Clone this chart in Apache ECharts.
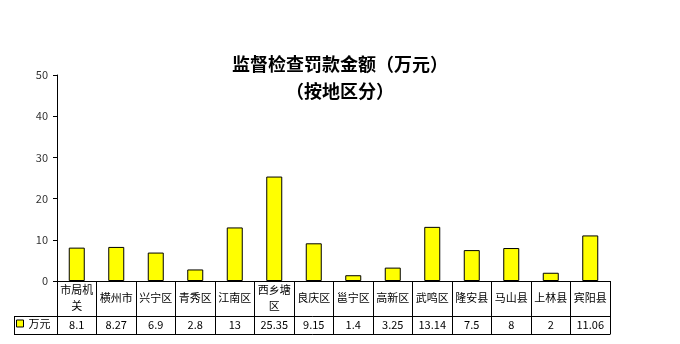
<!DOCTYPE html>
<html><head><meta charset="utf-8">
<script src="https://cdn.jsdelivr.net/npm/echarts@6/dist/echarts.min.js"></script>
<style>html,body{margin:0;padding:0;background:#fff}#c{width:680px;height:344px}</style>
</head><body><div id="c"></div>
<script>
const categories = ['市局机关','横州市','兴宁区','青秀区','江南区','西乡塘区','良庆区','邕宁区','高新区','武鸣区','隆安县','马山县','上林县','宾阳县'];
const values = [8.1, 8.27, 6.9, 2.8, 13, 25.35, 9.15, 1.4, 3.25, 13.14, 7.5, 8, 2, 11.06];
const seriesName = '万元';
const yTicks = [0, 10, 20, 30, 40, 50];
const titleLines = ['监督检查罚款金额（万元）', '（按地区分）'];

const FONT = '"Noto Sans CJK SC", sans-serif';
const chart = echarts.init(document.getElementById('c'), null, {renderer: 'canvas'});
const gridLeft = 57, gridRight = 610, axisY = 281;
chart.setOption({
  animation: false,
  backgroundColor: '#fff',
  title: {
    text: titleLines.join('\n'), left: 335, top: 46, textAlign: 'center',
    textStyle: {fontFamily: FONT, fontSize: 18, fontWeight: 'bold', color: '#000', lineHeight: 27}
  },
  legend: {
    data: [seriesName], left: 16, top: 318, itemWidth: 7, itemHeight: 7, itemGap: 0,
    icon: 'rect', padding: 0,
    textStyle: {fontFamily: FONT, fontSize: 11, color: '#000', padding: [0,0,0,0]},
    itemStyle: {borderColor: '#000', borderWidth: 1}
  },
  grid: {left: gridLeft, right: 680 - gridRight, top: 75, bottom: 344 - axisY, containLabel: false},
  xAxis: [{
    type: 'category', data: categories, position: 'bottom',
    axisLine: {lineStyle: {color: '#000', width: 1}},
    axisTick: {show: true, length: 53, lineStyle: {color: '#000'}},
    axisLabel: {
      interval: 0, margin: 17, verticalAlign: 'middle', fontFamily: FONT, fontSize: 11, color: '#000', lineHeight: 16,
      formatter: n => n.length > 3 ? n.slice(0,3) + '\n' + n.slice(3) : n
    }
  }, {
    type: 'category', data: values.map(String), position: 'bottom', offset: 35,
    axisLine: {show: false}, axisTick: {show: false},
    axisLabel: {interval: 0, margin: 9, verticalAlign: 'middle', fontFamily: FONT, fontSize: 11, color: '#000'}
  }],
  yAxis: {
    type: 'value', min: yTicks[0], max: yTicks[yTicks.length-1], interval: yTicks[1]-yTicks[0],
    axisLine: {show: true, lineStyle: {color: '#000'}},
    axisTick: {show: true, inside: false, length: 4, lineStyle: {color: '#000'}},
    splitLine: {show: false},
    axisLabel: {margin: 9, fontFamily: FONT, fontSize: 11, color: '#333'}
  },
  series: [{
    name: seriesName, type: 'bar', data: values, barWidth: 16,
    itemStyle: {color: '#FFFF00', borderColor: '#000', borderWidth: 1}
  }],
  graphic: [
    {type: 'line', shape: {x1: 14, y1: 316.5, x2: gridRight + 0.5, y2: 316.5}, style: {stroke: '#000', lineWidth: 1}},
    {type: 'line', shape: {x1: 14, y1: 334.5, x2: gridRight + 0.5, y2: 334.5}, style: {stroke: '#000', lineWidth: 1}},
    {type: 'line', shape: {x1: 14.5, y1: 316.5, x2: 14.5, y2: 334.5}, style: {stroke: '#000', lineWidth: 1}}
  ]
});
</script></body></html>
